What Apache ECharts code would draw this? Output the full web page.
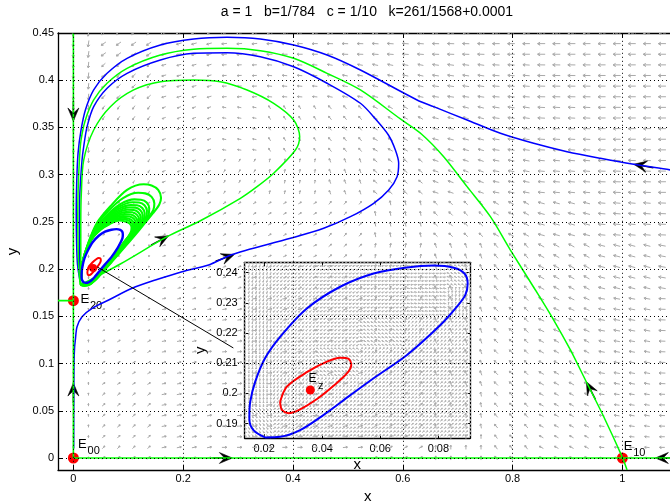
<!DOCTYPE html>
<html>
<head>
<meta charset="utf-8">
<script src="https://cdn.jsdelivr.net/npm/echarts@6/dist/echarts.min.js"></script>
<style>
html,body{margin:0;padding:0;background:#fff}
#chart{width:670px;height:504px}
</style>
</head>
<body>
<div id="chart"></div>
<script>
// Phase portrait with a zoomed inset around the interior equilibrium Ez.
const FONT = '"Liberation Sans", Arial, Helvetica, sans-serif';
const titleText = 'a = 1   b=1/784   c = 1/10   k=261/1568+0.0001';

// axis ticks
const xTicks = [0, 0.2, 0.4, 0.6, 0.8, 1];
const yTicks = [0, 0.05, 0.1, 0.15, 0.2, 0.25, 0.3, 0.35, 0.4, 0.45];
const insetXTicks = [0.02, 0.04, 0.06, 0.08];
const insetYTicks = [0.19, 0.2, 0.21, 0.22, 0.23, 0.24];

// invariant axes and the stable direction of E20
const yAxisOrbit = [[0, 0], [0, 0.45]];
const xAxisOrbit = [[0, 0], [1.1, 0]];
const e20Branch = [[-0.028, 0.1666], [0, 0.1666]];

// orbit leaving E10, arching over and winding onto the cycle
const bigGreenArc = [[1.0085,-0.0127],[0.9994,0.0014],[0.966,0.0437],[0.9326,0.0826],[0.9053,0.1144],[0.8749,0.1461],[0.8415,0.1779],[0.796,0.2202],[0.7596,0.2555],[0.7171,0.2873],[0.6745,0.319],[0.6339,0.3431],[0.5956,0.359],[0.5228,0.3897],[0.4621,0.4073],[0.4013,0.4232],[0.3406,0.4313],[0.28,0.4338],[0.2191,0.4328],[0.1585,0.4267],[0.0978,0.4126],[0.0614,0.3968],[0.037,0.3791],[0.0219,0.3579],[0.014,0.3367],[0.011,0.3155],[0.0085,0.28],[0.008,0.25],[0.0088,0.22],[0.0098,0.2],[0.0125,0.1835]];

// orbit starting near the cusp of the spiral
const innerGreenArc = [[0.0188,0.185],[0.0856,0.2054],[0.1707,0.2343],[0.2313,0.2512],[0.3042,0.275],[0.3346,0.2873],[0.3648,0.3015],[0.4044,0.3261],[0.4122,0.3402],[0.4013,0.3579],[0.3648,0.3756],[0.3164,0.3897],[0.2678,0.3984],[0.2191,0.4003],[0.1585,0.3984],[0.1098,0.3897],[0.0674,0.372],[0.037,0.3473],[0.0188,0.3155],[0.0145,0.28],[0.0135,0.25],[0.0135,0.22],[0.0135,0.2],[0.0125,0.1835]];

// successive turns of the green orbits around the limit cycle
const greenTurns = [
  [[0.0125,0.1835],[0.02,0.1822],[0.03,0.1836],[0.04,0.1884],[0.05,0.1946],[0.07,0.2076],[0.095,0.2243],[0.12,0.2414],[0.145,0.2592],[0.1565,0.2685],[0.1597,0.2755],[0.1545,0.2838],[0.1425,0.2885],[0.128,0.2898],[0.0978,0.2838],[0.0674,0.2665],[0.0431,0.249],[0.027,0.2275],[0.0165,0.2065],[0.012,0.1885]],
  [[0.0128,0.1838],[0.0205,0.1826],[0.0305,0.1841],[0.0405,0.1889],[0.0505,0.1952],[0.07,0.2082],[0.093,0.2238],[0.115,0.2392],[0.136,0.2545],[0.1455,0.2625],[0.1475,0.2695],[0.1425,0.2765],[0.131,0.2802],[0.118,0.2808],[0.0905,0.2752],[0.063,0.2612],[0.0415,0.2455],[0.0265,0.2262],[0.0164,0.2062],[0.0123,0.1888]],
  [[0.0132,0.184],[0.021,0.1829],[0.031,0.1845],[0.041,0.1893],[0.051,0.1957],[0.07,0.2087],[0.091,0.2233],[0.111,0.2375],[0.1285,0.2505],[0.1365,0.2575],[0.1382,0.2642],[0.1335,0.2705],[0.123,0.2735],[0.111,0.2738],[0.0855,0.2688],[0.0605,0.2568],[0.0402,0.2425],[0.0262,0.225],[0.0164,0.2062],[0.0126,0.189]],
  [[0.0134,0.1841],[0.0212,0.183],[0.0312,0.1847],[0.0412,0.1895],[0.0512,0.196],[0.07,0.209],[0.09,0.223],[0.109,0.2366],[0.125,0.2488],[0.1325,0.2553],[0.134,0.2617],[0.1295,0.2677],[0.1195,0.2706],[0.1078,0.2708],[0.0832,0.266],[0.0595,0.2548],[0.0396,0.241],[0.026,0.2244],[0.0164,0.2061],[0.0128,0.1891]],
  [[0.0136,0.1842],[0.0215,0.1832],[0.0315,0.1849],[0.0415,0.1898],[0.0515,0.1962],[0.07,0.2092],[0.089,0.2228],[0.107,0.2358],[0.1215,0.247],[0.1285,0.2532],[0.1298,0.2592],[0.1255,0.2648],[0.116,0.2676],[0.1045,0.2678],[0.081,0.2632],[0.0585,0.2528],[0.039,0.2395],[0.0258,0.2238],[0.0163,0.206],[0.013,0.1892]],
  [[0.0138,0.1843],[0.0218,0.1834],[0.0318,0.1851],[0.0418,0.19],[0.0518,0.1964],[0.07,0.2094],[0.0882,0.2226],[0.105,0.235],[0.1185,0.2454],[0.125,0.2513],[0.1263,0.257],[0.122,0.2624],[0.113,0.2651],[0.1015,0.2653],[0.079,0.2608],[0.0572,0.251],[0.0384,0.2381],[0.0256,0.2233],[0.0163,0.2059],[0.0132,0.1893]],
  [[0.014,0.1844],[0.022,0.1835],[0.032,0.1853],[0.042,0.1903],[0.052,0.1967],[0.07,0.2097],[0.0875,0.2225],[0.103,0.2342],[0.1155,0.2438],[0.1215,0.2495],[0.1228,0.2548],[0.1185,0.26],[0.11,0.2626],[0.0985,0.2628],[0.077,0.2585],[0.056,0.2492],[0.0378,0.2368],[0.0254,0.2228],[0.0163,0.2058],[0.0134,0.1894]],
  [[0.0142,0.1845],[0.0222,0.1836],[0.0322,0.1855],[0.0422,0.1905],[0.0522,0.197],[0.0698,0.2098],[0.0866,0.2222],[0.101,0.2333],[0.1128,0.2423],[0.1185,0.2477],[0.1196,0.2528],[0.1155,0.2577],[0.1072,0.2602],[0.0956,0.2605],[0.0752,0.2565],[0.0549,0.2477],[0.0371,0.2358],[0.0252,0.2225],[0.0163,0.2059],[0.0136,0.1895]],
  [[0.0144,0.1846],[0.0225,0.1838],[0.0325,0.1857],[0.0425,0.1908],[0.0525,0.1972],[0.0695,0.21],[0.0858,0.222],[0.099,0.2325],[0.1102,0.2408],[0.1155,0.246],[0.1165,0.2508],[0.1125,0.2555],[0.1045,0.2578],[0.0928,0.2582],[0.0735,0.2545],[0.0538,0.2462],[0.0365,0.2348],[0.025,0.2222],[0.0164,0.2061],[0.0138,0.1896]],
  [[0.0146,0.1847],[0.0228,0.184],[0.0328,0.1859],[0.0428,0.191],[0.0528,0.1975],[0.0692,0.2101],[0.085,0.2218],[0.0974,0.2316],[0.1078,0.2394],[0.1128,0.2444],[0.1136,0.249],[0.1098,0.2535],[0.1022,0.2557],[0.0903,0.2563],[0.0716,0.2527],[0.0528,0.245],[0.0358,0.2341],[0.0247,0.222],[0.0165,0.2062],[0.014,0.1897]],
  [[0.0148,0.1848],[0.023,0.1841],[0.033,0.1861],[0.043,0.1912],[0.053,0.1977],[0.069,0.2102],[0.0842,0.2215],[0.0958,0.2308],[0.1055,0.238],[0.11,0.2428],[0.1108,0.2472],[0.1072,0.2515],[0.0998,0.2536],[0.0878,0.2545],[0.0698,0.2508],[0.0518,0.2438],[0.0352,0.2335],[0.0244,0.2218],[0.0165,0.2063],[0.0142,0.1898]],
  [[0.015,0.1849],[0.0232,0.1842],[0.0332,0.1863],[0.0432,0.1914],[0.0532,0.198],[0.0688,0.2103],[0.0835,0.2214],[0.0945,0.2302],[0.1034,0.2368],[0.1076,0.2414],[0.1084,0.2457],[0.1048,0.2498],[0.0978,0.2519],[0.0858,0.253],[0.0682,0.2493],[0.0508,0.2428],[0.0347,0.233],[0.0241,0.2217],[0.0165,0.2064],[0.0144,0.1899]],
  [[0.0152,0.185],[0.0235,0.1843],[0.0335,0.1865],[0.0435,0.1916],[0.0535,0.1982],[0.0685,0.2104],[0.0828,0.2212],[0.0932,0.2295],[0.1012,0.2355],[0.1052,0.24],[0.106,0.2442],[0.1025,0.2482],[0.0958,0.2502],[0.0838,0.2515],[0.0665,0.2478],[0.0498,0.2418],[0.0342,0.2325],[0.0238,0.2215],[0.0165,0.2065],[0.0145,0.19]]
];

// blue orbits
const outerBlueArc = [[1.1,0.3035],[1.0874,0.305],[1.0206,0.311],[0.9599,0.3173],[0.8993,0.3243],[0.8384,0.3332],[0.7778,0.3438],[0.7171,0.3579],[0.6563,0.372],[0.626,0.3791],[0.5228,0.4108],[0.4621,0.4267],[0.4013,0.4373],[0.3406,0.4437],[0.28,0.4455],[0.2191,0.4437],[0.1585,0.4373],[0.0978,0.4232],[0.0614,0.4073],[0.037,0.3897],[0.0219,0.3685],[0.014,0.3473],[0.0085,0.3226],[0.0062,0.2944],[0.0052,0.26],[0.0058,0.23],[0.0075,0.205],[0.0125,0.1864]];
const innerBlueArc = [[0.0006,0.01],[0.0008,0.06],[0.0012,0.1],[0.0022,0.117],[0.0036,0.125],[0.0067,0.139],[0.0158,0.1496],[0.0341,0.1585],[0.0643,0.1673],[0.1069,0.1797],[0.1494,0.1885],[0.198,0.1973],[0.2464,0.2044],[0.2823,0.2139],[0.3133,0.2197],[0.3953,0.2326],[0.4559,0.2432],[0.5046,0.2555],[0.547,0.2697],[0.5743,0.2838],[0.5896,0.2979],[0.5925,0.312],[0.5865,0.3261],[0.5738,0.342],[0.5519,0.3579],[0.5228,0.3756],[0.4621,0.3968],[0.4013,0.4143],[0.3406,0.4249],[0.28,0.4292],[0.2191,0.4285],[0.1585,0.4214],[0.0978,0.4073],[0.0614,0.3915],[0.037,0.372],[0.025,0.3508],[0.0188,0.3297],[0.0158,0.3155],[0.0118,0.28],[0.011,0.25],[0.0112,0.22],[0.012,0.2],[0.0125,0.1864]];

// stable limit cycle and the unstable cycle around Ez
const limitCycle = [[0.0203,0.1854],[0.0163,0.1878],[0.0149,0.1917],[0.0152,0.1972],[0.0169,0.2038],[0.0203,0.2116],[0.0255,0.2187],[0.0347,0.2281],[0.0462,0.2353],[0.0577,0.2397],[0.0692,0.2417],[0.0784,0.2423],[0.0853,0.2416],[0.089,0.2397],[0.0901,0.2364],[0.0893,0.2326],[0.0864,0.2287],[0.0807,0.2226],[0.0692,0.2127],[0.0577,0.205],[0.0497,0.1994],[0.0404,0.1928],[0.0324,0.1878],[0.0255,0.1856],[0.0203,0.1854]];
const redCycle = [[0.0255,0.1972],[0.0278,0.2022],[0.0347,0.207],[0.0416,0.2105],[0.0462,0.2118],[0.0491,0.2114],[0.05,0.2094],[0.0485,0.2066],[0.0439,0.2025],[0.0382,0.1981],[0.0324,0.1947],[0.0284,0.1934],[0.0261,0.1945],[0.0255,0.1972]];

// equilibria
const boundaryEquilibria = [[0, 0], [1, 0], [0, 0.1666]];
const interiorEquilibrium = [[0.0359, 0.2011]];

// direction arrows on the orbits: x, y, heading (deg)
const flowArrows = [[0,0.3568,270],[0,0.0794,90],[0.2896,0,0],[1.06,0,180],[0.9344,0.0808,117],[1.0206,0.311,170],[0.1736,0.2354,28],[0.2933,0.2155,20]];

// pointer from Ez to the inset
const connector = [[0.0437,0.2022],[0.2914,0.1165]];

// equilibrium labels (anchor of the "E")
const labels = [
  {at: [0.0086, 0.0145], sub: '00'},
  {at: [0.0128, 0.1679], sub: '20'},
  {at: [1.0024, 0.0127], sub: '10'}
];
const insetLabels = [{at: [0.0353, 0.2047], sub: 'z'}];

// direction field, coarse: rows y = 0..0.45 (step 0.05), cols x = 0..1.1 (step 0.1)
const fieldAngle = [
  [90, 45, 10, 0, 0, 5, 30, 90, 125, 150, 175, 180],
  [90, 40, 10, 3, 3, 10, 40, 100, 130, 150, 172, 178],
  [90, 30, 10, 5, 5, 15, 50, 110, 135, 150, 170, 178],
  [90, 20, 10, 8, 10, 20, 60, 110, 135, 155, 170, 178],
  [270, 20, 15, 18, 25, 40, 80, 110, 130, 150, 165, 170],
  [270, 35, 30, 30, 30, 50, 100, 135, 150, 165, 175, 178],
  [270, 240, 200, 60, 80, 110, 140, 160, 170, 175, 178, 180],
  [268, 235, 200, 170, 120, 130, 150, 165, 172, 177, 180, 180],
  [265, 222, 195, 182, 175, 170, 168, 172, 176, 179, 180, 180],
  [262, 215, 195, 185, 180, 178, 176, 178, 180, 180, 180, 180]
];
const fieldMag = [
  [0.3, 0.5, 0.6, 0.65, 0.65, 0.6, 0.55, 0.55, 0.6, 0.6, 0.65, 0.7],
  [0.35, 0.5, 0.6, 0.65, 0.65, 0.6, 0.6, 0.6, 0.65, 0.65, 0.7, 0.75],
  [0.35, 0.45, 0.55, 0.6, 0.6, 0.6, 0.6, 0.65, 0.7, 0.75, 0.8, 0.85],
  [0.3, 0.3, 0.5, 0.55, 0.55, 0.55, 0.6, 0.65, 0.75, 0.8, 0.85, 0.9],
  [0.35, 0.2, 0.4, 0.45, 0.45, 0.5, 0.55, 0.65, 0.75, 0.85, 0.9, 0.95],
  [0.5, 0.3, 0.4, 0.45, 0.45, 0.5, 0.6, 0.7, 0.8, 0.9, 0.95, 1],
  [0.6, 0.4, 0.45, 0.4, 0.45, 0.55, 0.65, 0.75, 0.85, 0.9, 1, 1],
  [0.7, 0.55, 0.5, 0.5, 0.5, 0.6, 0.7, 0.8, 0.9, 0.95, 1, 1],
  [0.8, 0.65, 0.6, 0.6, 0.65, 0.7, 0.75, 0.85, 0.9, 1, 1, 1],
  [0.85, 0.75, 0.7, 0.7, 0.75, 0.8, 0.85, 0.9, 0.95, 1, 1, 1]
];
// inset direction field, coarse: rows y = 0.19..0.24, cols x = 0.015..0.09 (step 0.015)
const insetAngle = [
  [300, 30, 30, 30, 35, 35],
  [270, 240, 40, 35, 35, 35],
  [260, 230, 150, 40, 35, 35],
  [255, 225, 210, 150, 50, 45],
  [250, 220, 205, 200, 170, 80],
  [250, 215, 200, 190, 185, 150]
];

// ---- build arrow grids from the coarse tables ----
function clampIdx(i, n) { return Math.max(0, Math.min(n - 1, i)); }
const fieldPoints = [];
for (let i = 0; i <= 40; i++) {
  for (let j = 0; j <= 40; j++) {
    const x = i * 0.0275, y = j * 0.01125;
    const r = clampIdx(Math.round(y / 0.05), fieldAngle.length);
    const c = clampIdx(Math.round(x / 0.1), fieldAngle[0].length);
    fieldPoints.push([x, y, fieldAngle[r][c], fieldMag[r][c]]);
  }
}
const insetPoints = [];
for (let i = 0; i <= 62; i++) {
  for (let j = 0; j <= 46; j++) {
    const x = 0.0135 + i * 0.00125, y = 0.186 + j * 0.00125;
    const r = clampIdx(Math.round((y - 0.19) / 0.01), insetAngle.length);
    const c = clampIdx(Math.round((x - 0.015) / 0.015), insetAngle[0].length);
    insetPoints.push([x, y, insetAngle[r][c], 1]);
  }
}

// ---- renderers ----
function quiverRenderer(maxLen, color) {
  return function (params, api) {
    const p = api.coord([api.value(0), api.value(1)]);
    const a = api.value(2) * Math.PI / 180;
    const len = maxLen * api.value(3);
    const ux = Math.cos(a), uy = -Math.sin(a);
    const t = [p[0] + ux * len / 2, p[1] + uy * len / 2];
    const s = [p[0] - ux * len / 2, p[1] - uy * len / 2];
    const h = Math.max(1.1, len * 0.38);
    const ca = Math.cos(0.55), sa = Math.sin(0.55);
    const bx = -ux, by = -uy;
    const h1 = [t[0] + h * (bx * ca - by * sa), t[1] + h * (bx * sa + by * ca)];
    const h2 = [t[0] + h * (bx * ca + by * sa), t[1] + h * (-bx * sa + by * ca)];
    return {
      type: 'polyline',
      shape: {points: [s, t, h1, t, h2]},
      style: {stroke: color, lineWidth: 1, fill: null}
    };
  };
}

function flowArrowRenderer(params, api) {
  const p = api.coord([api.value(0), api.value(1)]);
  const a = api.value(2) * Math.PI / 180;
  const ux = Math.cos(a), uy = -Math.sin(a);
  const nx = -uy, ny = ux;
  const L = 13, W = 11, shaft = 20;
  const back = [p[0] - ux * L, p[1] - uy * L];
  const notch = [p[0] - ux * L * 0.6, p[1] - uy * L * 0.6];
  const left = [back[0] + nx * W / 2, back[1] + ny * W / 2];
  const right = [back[0] - nx * W / 2, back[1] - ny * W / 2];
  return {
    type: 'group',
    children: [
      {type: 'line', shape: {x1: p[0] - ux * shaft, y1: p[1] - uy * shaft, x2: notch[0], y2: notch[1]},
       style: {stroke: '#000', lineWidth: 1.5}},
      {type: 'polygon', shape: {points: [p, left, notch, right]}, style: {fill: '#000', stroke: '#000', lineWidth: 0.6}}
    ]
  };
}

function labelRenderer(list, mainSize, subSize) {
  return function (params, api) {
    const p = api.coord([api.value(0), api.value(1)]);
    const item = list[params.dataIndex];
    return {
      type: 'group',
      children: [
        {type: 'text', x: p[0], y: p[1],
         style: {text: 'E', fill: '#000', font: mainSize + 'px ' + FONT, align: 'left', verticalAlign: 'middle'}},
        {type: 'text', x: p[0] + 9.5, y: p[1] + 7,
         style: {text: item.sub, fill: '#000', font: subSize + 'px ' + FONT, align: 'left', verticalAlign: 'middle'}}
      ]
    };
  };
}

// ---- axes ----
const tickLabel = {color: '#000', fontSize: 11, fontFamily: FONT};
const nameStyle = {color: '#000', fontSize: 15, fontFamily: FONT};
const axisLineStyle = {show: true, onZero: false, lineStyle: {color: '#000', width: 1.3}};

function valueAxis(grid, min, max, position, ticks, opts) {
  return Object.assign({
    type: 'value', gridIndex: grid, min: min, max: max, position: position,
    axisLine: axisLineStyle,
    axisTick: {show: true, inside: true, length: opts.tickLen, customValues: ticks, lineStyle: {color: '#000', width: 1}},
    axisLabel: opts.labels ? Object.assign({customValues: ticks, margin: opts.margin}, tickLabel) : {show: false},
    splitLine: {show: false}
  }, opts.extra || {});
}

const mainX = [-0.028, 1.1], mainY = [-0.0125, 0.45];
const insetX = [0.0133, 0.0909], insetY = [0.1851, 0.2434];

const gridLines = xTicks.map(v => ({xAxis: v})).concat(yTicks.map(v => ({yAxis: v})));

function line(data, color, width, idx, extra) {
  return Object.assign({
    type: 'line', data: data, xAxisIndex: idx, yAxisIndex: idx,
    showSymbol: false, symbol: 'none', smooth: 0.3, clip: true, silent: true, animation: false,
    lineStyle: {color: color, width: width}
  }, extra || {});
}

const GREEN = '#00ff00', BLUE = '#0000ff', RED = '#ff0000', GREY = '#aaaaaa', GREY_INSET = '#b4b4b4';
const dotStyle = {color: RED, borderWidth: 0, opacity: 1};

const option = {
  animation: false,
  backgroundColor: '#fff',
  grid: [
    {left: 58, top: 33, width: 619.3, height: 436.8, show: false, containLabel: false, outerBoundsMode: 'none'},
    {left: 244.7, top: 262.3, width: 225.3, height: 176, show: false, containLabel: false, outerBoundsMode: 'none'}
  ],
  xAxis: [
    valueAxis(0, mainX[0], mainX[1], 'bottom', xTicks, {tickLen: 5, labels: true, margin: 4,
      extra: {name: 'x', nameLocation: 'middle', nameGap: 13, nameTextStyle: nameStyle}}),
    valueAxis(0, mainX[0], mainX[1], 'top', xTicks, {tickLen: 5, labels: false}),
    valueAxis(1, insetX[0], insetX[1], 'bottom', insetXTicks, {tickLen: 4, labels: true, margin: 5,
      extra: {name: 'x', nameLocation: 'middle', nameGap: 19, nameTextStyle: nameStyle}}),
    valueAxis(1, insetX[0], insetX[1], 'top', insetXTicks, {tickLen: 4, labels: false})
  ],
  yAxis: [
    valueAxis(0, mainY[0], mainY[1], 'left', yTicks, {tickLen: 5, labels: true, margin: 4,
      extra: {name: 'y', nameLocation: 'middle', nameGap: 38, nameRotate: 90, nameTextStyle: nameStyle}}),
    valueAxis(0, mainY[0], mainY[1], 'right', yTicks, {tickLen: 5, labels: false}),
    valueAxis(1, insetY[0], insetY[1], 'left', insetYTicks, {tickLen: 4, labels: true, margin: 7,
      extra: {name: 'y', nameLocation: 'middle', nameGap: 36, nameRotate: 90, nameTextStyle: nameStyle}}),
    valueAxis(1, insetY[0], insetY[1], 'right', insetYTicks, {tickLen: 4, labels: false})
  ],
  graphic: [{
    type: 'text', x: 367, y: 12,
    style: {text: titleText, fill: '#000', font: '14px ' + FONT, align: 'center', verticalAlign: 'middle'}
  }],
  series: [
    // dotted grid of the main axes
    {type: 'line', data: [], xAxisIndex: 0, yAxisIndex: 0, silent: true, animation: false,
     markLine: {silent: true, symbol: 'none', label: {show: false}, animation: false,
       lineStyle: {color: '#000', type: [1, 3], width: 1}, data: gridLines}},
    line(outerBlueArc, BLUE, 1.5, 0),
    line(innerBlueArc, BLUE, 1.5, 0),
    line(yAxisOrbit, GREEN, 1.6, 0, {smooth: false}),
    line(xAxisOrbit, GREEN, 1.6, 0, {smooth: false}),
    line(e20Branch, GREEN, 1.6, 0, {smooth: false}),
    // direction field
    {type: 'custom', xAxisIndex: 0, yAxisIndex: 0, clip: true, silent: true, animation: false,
     data: fieldPoints, renderItem: quiverRenderer(7.5, GREY)},
    line(bigGreenArc, GREEN, 1.5, 0),
    line(innerGreenArc, GREEN, 1.5, 0)
  ].concat(greenTurns.map(t => line(t, GREEN, 2.1, 0))).concat([
    line(limitCycle, BLUE, 2.4, 0),
    line(redCycle, RED, 2, 0),
    line(connector, '#000', 1, 0, {smooth: false}),
    {type: 'custom', xAxisIndex: 0, yAxisIndex: 0, clip: false, silent: true, animation: false,
     data: flowArrows, renderItem: flowArrowRenderer},
    {type: 'scatter', xAxisIndex: 0, yAxisIndex: 0, data: boundaryEquilibria, symbolSize: 11,
     itemStyle: dotStyle, silent: true, animation: false, clip: false},
    {type: 'scatter', xAxisIndex: 0, yAxisIndex: 0, data: interiorEquilibrium, symbolSize: 8,
     itemStyle: dotStyle, silent: true, animation: false},
    {type: 'custom', xAxisIndex: 0, yAxisIndex: 0, clip: false, silent: true, animation: false,
     data: labels.map(d => d.at), renderItem: labelRenderer(labels, 13, 11)},
    // inset
    {type: 'custom', xAxisIndex: 2, yAxisIndex: 2, clip: true, silent: true, animation: false,
     data: insetPoints, renderItem: quiverRenderer(2.8, GREY_INSET)},
    line(limitCycle, BLUE, 2, 2),
    line(redCycle, RED, 2, 2),
    {type: 'scatter', xAxisIndex: 2, yAxisIndex: 2, data: interiorEquilibrium, symbolSize: 9,
     itemStyle: dotStyle, silent: true, animation: false},
    {type: 'custom', xAxisIndex: 2, yAxisIndex: 2, clip: false, silent: true, animation: false,
     data: insetLabels.map(d => d.at), renderItem: labelRenderer(insetLabels, 12, 11)}
  ])
};

const chart = echarts.init(document.getElementById('chart'), null, {renderer: 'canvas'});
chart.setOption(option);
</script>
</body>
</html>
